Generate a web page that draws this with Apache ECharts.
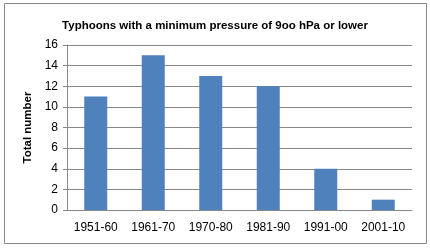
<!DOCTYPE html>
<html><head><meta charset="utf-8">
<script src="https://cdn.jsdelivr.net/npm/echarts@6/dist/echarts.min.js"></script>
<style>html,body{margin:0;padding:0;background:#fff}#c{width:430px;height:248px}</style>
</head><body><div id="c"></div>
<script>
const categories = ['1951-60','1961-70','1970-80','1981-90','1991-00','2001-10'];
const totals = [11, 15, 13, 12, 4, 1];
const chart = echarts.init(document.getElementById('c'), null, {renderer:'canvas'});
const font = 'Liberation Sans, Arial, sans-serif';
chart.setOption({
  animation:false,
  title:{text:'Typhoons with a minimum pressure of 9oo hPa or lower',left:'center',top:15,
    textStyle:{fontSize:11.5,fontWeight:'bold',color:'#000',fontFamily:font}},
  graphic:[{type:'rect',shape:{x:4.5,y:3.5,width:422,height:240},style:{fill:'none',stroke:'#888',lineWidth:1}}],
  grid:{left:67,right:18,top:45,bottom:38},
  xAxis:{type:'category',data:categories,
    axisLine:{lineStyle:{color:'#888'}},axisTick:{show:false},
    axisLabel:{color:'#000',fontSize:12,fontFamily:font,margin:12}},
  yAxis:{type:'value',min:0,max:16,interval:2,name:'Total number',nameLocation:'middle',nameGap:33,
    nameTextStyle:{fontSize:11.5,fontWeight:'bold',color:'#000',fontFamily:font},
    axisLine:{show:true,lineStyle:{color:'#888'}},axisTick:{show:true,length:4,lineStyle:{color:'#888'}},
    splitLine:{lineStyle:{color:'#888'}},
    axisLabel:{color:'#000',fontSize:12,fontFamily:font,margin:9}},
  series:[{type:'bar',data:totals,barWidth:'40%',itemStyle:{color:'#4F81BD'}}]
});
</script></body></html>
